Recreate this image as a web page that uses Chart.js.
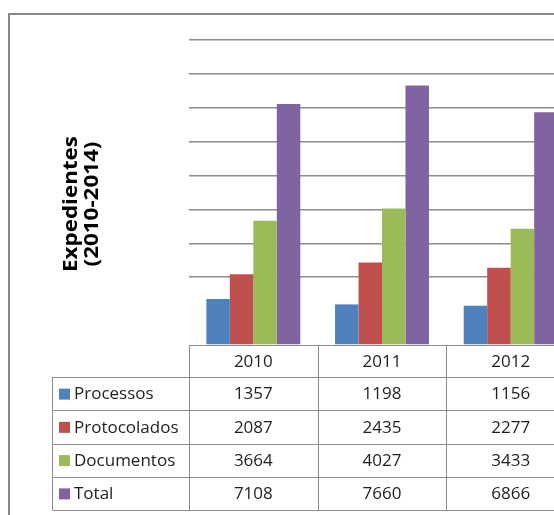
<!DOCTYPE html>
<html>
<head>
<meta charset="utf-8">
<script src="https://cdn.jsdelivr.net/npm/chart.js@4.4.1/dist/chart.umd.min.js"></script>
<style>
  html,body{ margin:0; padding:0; background:#fff; overflow:hidden; }
  #wrap{ width:554px; height:515px; overflow:hidden; }
</style>
</head>
<body>
<div id="wrap"><canvas id="c" width="600" height="515"></canvas></div>
<script>
// dados do gráfico (Expedientes 2010-2014, só 3 anos visíveis)
const anos = ['2010','2011','2012'];
const processos = [1357, 1198, 1156];
const protocolados = [2087, 2435, 2277];
const documentos = [3664, 4027, 3433];
const totais = [7108, 7660, 6866];
const series = ['Processos','Protocolados','Documentos','Total'];
const cores = ['#4F81BD','#C0504D','#9BBB59','#8064A2'];
const tituloY = ['Expedientes','(2010-2014)'];

const valores = [processos, protocolados, documentos, totais];
const FONT = '"Open Sans", "DejaVu Sans", sans-serif';
const LINE = '#8c8c8c';

// moldura + título do eixo
const moldura = {
  id:'moldura',
  beforeDraw(chart){
    const ctx = chart.ctx;
    ctx.save();
    ctx.fillStyle = '#fff';
    ctx.fillRect(0,0,chart.width,chart.height);
    ctx.strokeStyle = '#888';
    ctx.lineWidth = 2;
    ctx.strokeRect(9, 14, chart.width+50, chart.height+50);
    ctx.restore();
  },
  afterDraw(chart){
    const ctx = chart.ctx;
    ctx.save();
    ctx.translate(82, 204);
    ctx.rotate(-Math.PI/2);
    ctx.scale(1.12, 1);
    ctx.fillStyle = '#000';
    ctx.font = 'bold 20px ' + FONT;
    ctx.textAlign = 'center';
    ctx.textBaseline = 'middle';
    ctx.fillText(tituloY[0], 0, -10.5);
    ctx.fillText(tituloY[1], 0, 10.5);
    ctx.restore();
  }
};

// tabela de dados por baixo do gráfico
const tabela = {
  id:'tabela',
  afterDraw(chart){
    const ctx = chart.ctx;
    const xs = chart.scales.x;
    const area = chart.chartArea;
    const n = anos.length;
    const w = (xs.right - xs.left) / n;
    const x0 = xs.left, xEnd = xs.right;
    const labelLeft = 52.5;
    const top = area.bottom;
    const headH = 32, rowH = 33.25;
    const rowsTop = top + headH;
    const bottom = rowsTop + rowH*series.length;

    ctx.save();
    ctx.strokeStyle = LINE;
    ctx.lineWidth = 1;
    ctx.beginPath();
    ctx.moveTo(x0, top+0.5); ctx.lineTo(xEnd, top+0.5);
    for(let r=0;r<=series.length;r++){
      const y = Math.round(rowsTop + r*rowH) + 0.5;
      ctx.moveTo(labelLeft, y); ctx.lineTo(xEnd, y);
    }
    ctx.moveTo(labelLeft, rowsTop); ctx.lineTo(labelLeft, bottom);
    for(let i=0;i<=n;i++){
      const x = Math.round(x0 + i*w) + 0.5;
      ctx.moveTo(x, top); ctx.lineTo(x, bottom);
    }
    ctx.stroke();

    ctx.fillStyle = '#1e1e1e';
    ctx.font = '17px ' + FONT;
    ctx.textBaseline = 'middle';
    ctx.textAlign = 'center';
    anos.forEach((a,i)=>{
      ctx.fillText(a, xs.getPixelForValue(i), top + headH/2 + 1);
    });
    series.forEach((s,r)=>{
      const yc = rowsTop + r*rowH + rowH/2 + 1;
      ctx.textAlign = 'center';
      ctx.fillStyle = '#1e1e1e';
      valores[r].forEach((v,i)=>{
        ctx.fillText(String(v), xs.getPixelForValue(i), yc);
      });
      ctx.fillStyle = cores[r];
      ctx.fillRect(59, yc-6, 11, 11);
      ctx.fillStyle = '#1e1e1e';
      ctx.textAlign = 'left';
      ctx.fillText(s, 74, yc);
    });
    ctx.restore();
  }
};

new Chart(document.getElementById('c'), {
  type:'bar',
  data:{
    labels: anos,
    datasets: series.map((s,i)=>({
      label: s,
      data: valores[i],
      backgroundColor: cores[i],
      borderWidth: 0,
      categoryPercentage: 0.73,
      barPercentage: 1.0
    }))
  },
  options:{
    responsive:false,
    animation:false,
    layout:{ padding:{ left:189, top:40, right:25, bottom:170 } },
    plugins:{ legend:{ display:false }, tooltip:{ enabled:false } },
    scales:{
      x:{ display:false },
      y:{
        min:0, max:9000,
        ticks:{ display:false, stepSize:1000 },
        border:{ display:false },
        grid:{
          drawTicks:false,
          lineWidth:1.5,
          color: c => (c.tick && (c.tick.value===0 || c.tick.value===1000)) ? 'rgba(0,0,0,0)' : LINE
        }
      }
    }
  },
  plugins:[moldura, tabela]
});
</script>
</body>
</html>
